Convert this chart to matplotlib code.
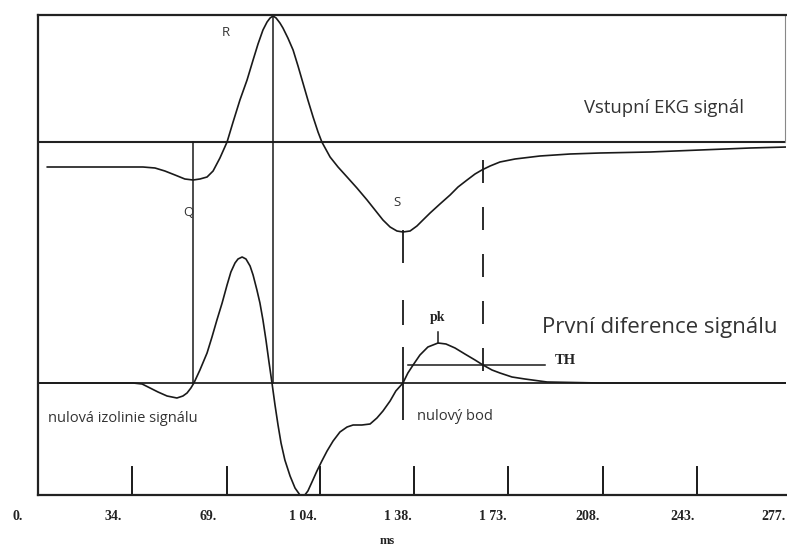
import matplotlib
matplotlib.use("Agg")
import matplotlib.pyplot as plt
from matplotlib.lines import Line2D

plt.rcParams['lines.scale_dashes'] = False

# ---------------- data (time in ms) ----------------
ekg_ms = [10.6, 29.9, 45.6, 50.0, 53.6, 57.3, 60.9, 63.9, 66.4, 69.0, 71.2, 73.7,
          76.3, 78.5, 81.0, 83.6, 85.8, 87.6, 89.4, 90.9, 92.0, 93.1, 94.2, 95.6,
          96.7, 98.5, 100.4, 102.2, 104.0, 105.8, 107.7, 109.5, 110.9, 113.9,
          116.8, 120.1, 123.7, 127.4, 130.3, 133.2, 135.8, 138.3, 140.5, 143.1,
          145.6, 147.8, 150.4, 154.0, 157.7, 160.6, 163.9, 166.8, 169.3, 172.3,
          175.9, 181.4, 190.5, 201.5, 212.4, 230.7, 248.9, 267.2, 280.7]
ekg_amp = [-25, -25, -25, -26, -29, -33, -37, -38, -37, -35, -29, -16,
           0, 20, 42, 62, 82, 98, 112, 120, 124, 126, 124, 119,
           114, 104, 92, 76, 59, 42, 25, 10, 0, -15,
           -25, -35, -46, -58, -68, -78, -85, -89, -90, -89,
           -84, -78, -71, -62, -53, -45, -38, -32, -28, -24,
           -20, -17, -14, -12, -11, -10, -8, -6, -5]

diff_ms = [7.3, 42.0, 45.3, 48.2, 51.1, 54.4, 58.0, 60.2, 61.7, 63.1, 64.2, 66.4,
           69.0, 70.8, 72.6, 74.5, 76.3, 77.7, 79.2, 80.3, 81.8, 83.2, 84.7, 85.8,
           87.2, 88.3, 89.4, 90.5, 91.6, 92.7, 93.8, 94.9, 96.0, 97.4, 99.3, 101.1,
           102.9, 104.4, 105.8, 107.3, 109.1, 110.9, 112.8, 115.0, 117.5, 120.1,
           122.3, 125.5, 128.5, 131.0, 133.2, 135.8, 137.9, 140.5, 142.3, 144.2,
           146.7, 149.6, 153.3, 156.2, 159.5, 163.1, 166.8, 169.7, 173.0, 175.9,
           180.3, 185.0, 193.1, 212.4, 248.9, 280.7]
diff_amp = [0, 0, -1, -5, -9, -13, -15, -13, -10, -5, 0, 13,
            30, 46, 63, 80, 98, 111, 120, 124, 126, 124, 117, 108,
            93, 80, 63, 43, 21, 0, -22, -42, -60, -77, -93, -105,
            -112, -113, -108, -99, -88, -78, -68, -58, -49, -44,
            -42, -42, -41, -35, -28, -18, -8, 0, 10, 18,
            28, 36, 40, 39, 35, 29, 23, 18, 13, 10,
            6, 4, 1, 0, 0, 0]

tick_label_ms = [0, 34.625, 69.25, 103.875, 138.5, 173.125, 207.75, 242.375, 277.0]
tick_labels = ["0.", "34.", "69.", "1 04.", "1 38.", "1 73.", "208.", "243.", "277."]
tick_mark_ms = [41.6, 76.3, 110.2, 144.5, 178.8, 213.5, 247.8]

q_ms, r_ms, s_ms, end_ms, pk_ms = 63.9, 93.1, 140.5, 169.7, 153.3
th_level = 18
th_start_ms, th_end_ms = 142.3, 192.3

# ---------------- layout ----------------
W, H = 787, 547
fig = plt.figure(figsize=(W / 100, H / 100), dpi=100)
ax_left, ax_right, ax_top, ax_bot = 38, 786, 15, 495
ax = fig.add_axes([ax_left / W, 1 - ax_bot / H, (ax_right - ax_left) / W, (ax_bot - ax_top) / H])
ax.set_xlim(7.3, 280.3)
ax.set_ylim(0, 480)

ekg_base = 353   # upper reference line
diff_base = 112  # zero line of first difference

ink = '#1a1a1a'
ax.spines['right'].set_visible(False)
for side in ['left', 'top', 'bottom']:
    ax.spines[side].set_linewidth(1.6)
    ax.spines[side].set_color('#222222')
ax.set_xticks([])
ax.set_yticks([])

# reference lines
ax.axhline(ekg_base, color='#222222', lw=1.5)
ax.axhline(diff_base, color='#222222', lw=1.3)
ax.plot([280.0, 280.0], [ekg_base, 480], color='#888888', lw=0.8, clip_on=False)

# signals
ax.plot(ekg_ms, [ekg_base + a for a in ekg_amp], color=ink, lw=1.2,
        solid_joinstyle='round', solid_capstyle='round')
ax.plot(diff_ms, [diff_base + a for a in diff_amp], color=ink, lw=1.2,
        solid_joinstyle='round', solid_capstyle='round')

# vertical markers
ax.plot([q_ms, q_ms], [ekg_base, diff_base], color=ink, lw=1.1)
ax.plot([r_ms, r_ms], [480, diff_base], color=ink, lw=1.1)
px2pt = 0.72
ax.add_line(Line2D([s_ms, s_ms], [265, 75], color=ink, lw=1.3,
                   dashes=[33 * px2pt, 37 * px2pt, 25 * px2pt, 22 * px2pt, 80 * px2pt, 5]))
ax.add_line(Line2D([end_ms, end_ms], [335, 120], color=ink, lw=1.3,
                   dashes=[23 * px2pt, 24 * px2pt]))
ax.plot([pk_ms, pk_ms], [152, 163], color=ink, lw=1.1)
ax.plot([th_start_ms, th_end_ms], [diff_base + th_level] * 2, color=ink, lw=1.1)

# tick marks (inward)
for m in tick_mark_ms:
    ax.plot([m, m], [0, 28], color=ink, lw=1.4)

# tick labels
serif_bold = dict(family='Liberation Serif', weight='bold', color='#222222')
last = len(tick_labels) - 1
for i, (m, lab) in enumerate(zip(tick_label_ms, tick_labels)):
    if i == last:
        ax.annotate(lab, (m, -22), xytext=(6, 0), textcoords='offset points',
                    ha='right', va='center', fontsize=10, annotation_clip=False,
                    **serif_bold)
    else:
        ax.text(m, -22, lab, ha='center', va='center', fontsize=10, clip_on=False,
                **serif_bold)
ax.text(134.7, -46, "ms", ha='center', va='center', fontsize=9, clip_on=False, **serif_bold)

# annotations
sans = dict(family='Open Sans', color='#333333')
ax.text(75.9, 462, "R", ha='center', va='center', fontsize=9.5, **sans)
ax.text(62.0, 283, "Q", ha='center', va='center', fontsize=9.5, **sans)
ax.text(138.3, 292, "S", ha='center', va='center', fontsize=9.5, **sans)
ax.text(206.6, 387, "Vstupní EKG signál", ha='left', va='center', fontsize=13.3, **sans)
ax.text(191.1, 167, "První diference signálu", ha='left', va='center', fontsize=16, **sans)
ax.text(10.9, 76, "nulová izolinie signálu", ha='left', va='center', fontsize=10.5, **sans)
ax.text(145.6, 79, "nulový bod", ha='left', va='center', fontsize=10.5, **sans)
ax.text(153.3, 177, "pk", ha='center', va='center', fontsize=10, **serif_bold)
ax.text(196.0, 135, "TH", ha='left', va='center', fontsize=10.5, **serif_bold)

fig.savefig("out.png", dpi=100)
